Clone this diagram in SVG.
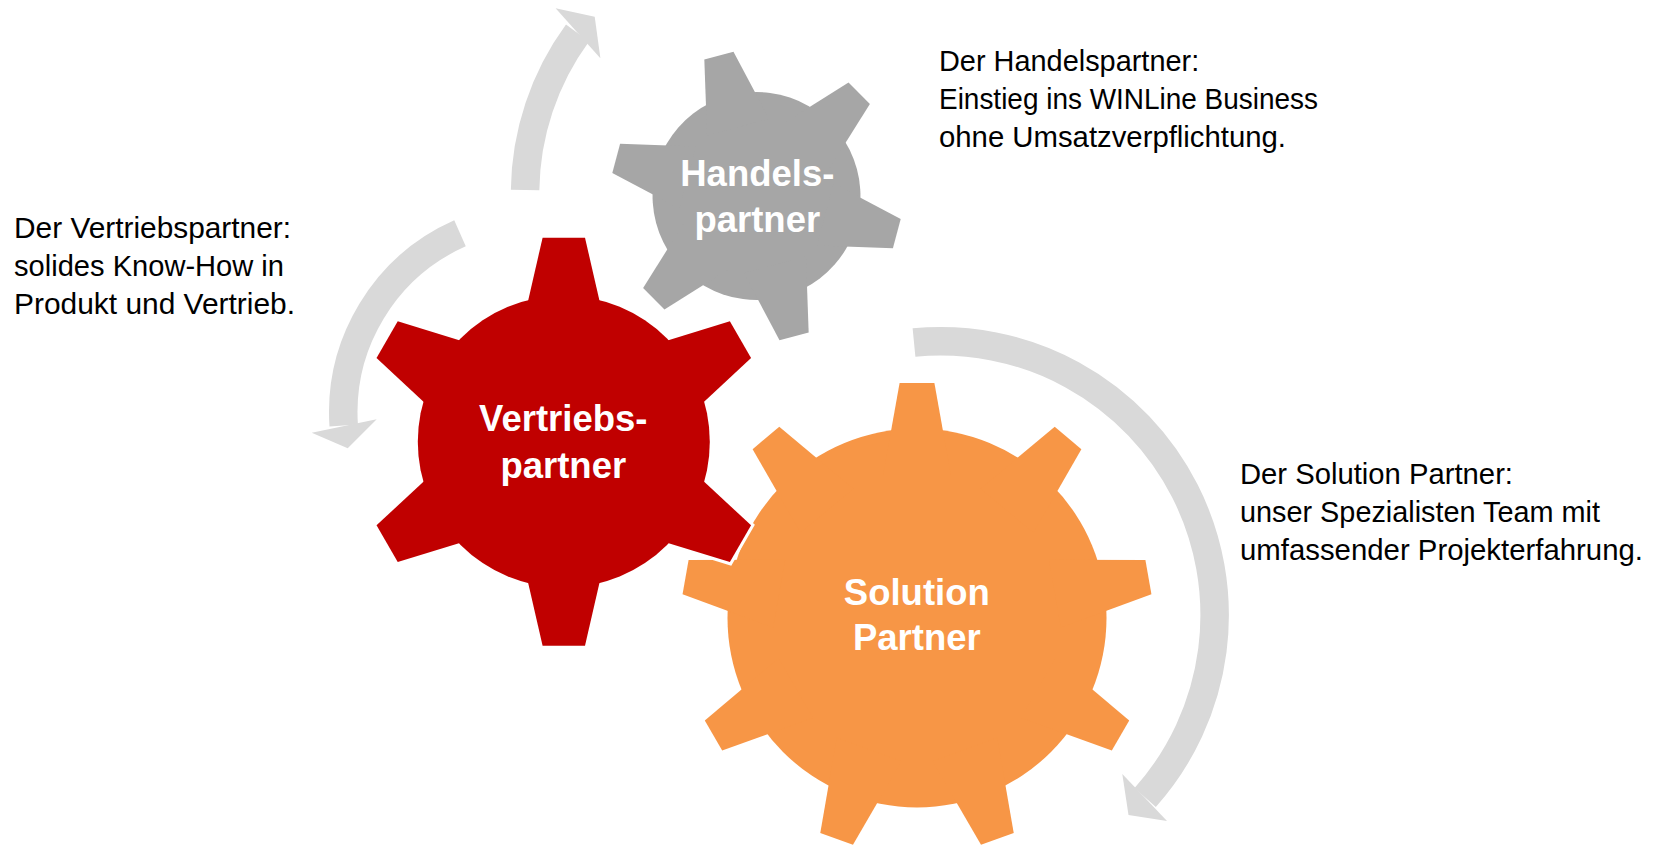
<svg xmlns="http://www.w3.org/2000/svg" xmlns:xlink="http://www.w3.org/1999/xlink" width="1660" height="847" viewBox="0 0 1660 847">
  <style>
    .arc { fill: none; stroke: #D9D9D9; stroke-width: 28.5; stroke-linecap: butt; }
    .head { fill: #D9D9D9; }
    .lbl { font-family: "Liberation Sans", Arial, sans-serif; font-weight: bold; font-size: 36.5px; fill: #FFFFFF; text-anchor: middle; }
    .desc { font-family: "Liberation Sans", Arial, sans-serif; font-size: 29px; fill: #000000; }
  </style>
  <defs>
    <g id="gear6">
      <circle cx="0" cy="0" r="146"/>
      <polygon id="t6" points="-45.1,-100 -21.2,-204 21.2,-204 45.1,-100"/>
      <use xlink:href="#t6" href="#t6" transform="rotate(60)"/>
      <use xlink:href="#t6" href="#t6" transform="rotate(120)"/>
      <use xlink:href="#t6" href="#t6" transform="rotate(180)"/>
      <use xlink:href="#t6" href="#t6" transform="rotate(240)"/>
      <use xlink:href="#t6" href="#t6" transform="rotate(300)"/>
    </g>
    <g id="gear9">
      <circle cx="0" cy="0" r="189.5"/>
      <polygon id="t9" points="-34.4,-140 -17.4,-235 17.4,-235 34.4,-140"/>
      <use xlink:href="#t9" href="#t9" transform="rotate(40)"/>
      <use xlink:href="#t9" href="#t9" transform="rotate(80)"/>
      <use xlink:href="#t9" href="#t9" transform="rotate(120)"/>
      <use xlink:href="#t9" href="#t9" transform="rotate(160)"/>
      <use xlink:href="#t9" href="#t9" transform="rotate(200)"/>
      <use xlink:href="#t9" href="#t9" transform="rotate(240)"/>
      <use xlink:href="#t9" href="#t9" transform="rotate(280)"/>
      <use xlink:href="#t9" href="#t9" transform="rotate(320)"/>
    </g>
  </defs>

  <rect x="0" y="0" width="1660" height="847" fill="#FFFFFF"/>

  <g id="connectors">
    <path class="arc" d="M525.1,190 A271,271 0 0 1 577.5,33"/>
    <polygon class="head" points="555.6,8.3 594.7,16.7 600.4,58.3"/>
    <path class="arc" d="M460,233.3 A196,196 0 0 0 343.7,425.5"/>
    <polygon class="head" points="311.7,432.7 347.7,448.3 376.7,419.3"/>
    <path class="arc" d="M914,342.5 A274,274 0 0 1 1145.2,797.5"/>
    <polygon class="head" points="1122.3,774 1128.5,815 1167,821"/>
  </g>

  <g id="node-solution">
    <g transform="translate(917,618)">
      <use xlink:href="#gear9" href="#gear9" fill="#FFFFFF" stroke="#FFFFFF" stroke-width="6"/>
      <use xlink:href="#gear9" href="#gear9" fill="#F79646"/>
    </g>
    <text class="lbl" x="916.8" y="604.5">Solution</text>
    <text class="lbl" x="916.8" y="650">Partner</text>
  </g>

  <g id="node-handelspartner">
    <g transform="translate(756.5,196) rotate(-15) scale(0.712)">
      <use xlink:href="#gear6" href="#gear6" fill="#FFFFFF" stroke="#FFFFFF" stroke-width="8.4"/>
      <use xlink:href="#gear6" href="#gear6" fill="#A6A6A6"/>
    </g>
    <text class="lbl" x="757.3" y="185.5">Handels-</text>
    <text class="lbl" x="757.3" y="232">partner</text>
  </g>

  <g id="node-vertriebspartner">
    <g transform="translate(563.8,441.7)">
      <use xlink:href="#gear6" href="#gear6" fill="#FFFFFF" stroke="#FFFFFF" stroke-width="6"/>
      <use xlink:href="#gear6" href="#gear6" fill="#C00000"/>
    </g>
    <text class="lbl" x="563.3" y="431">Vertriebs-</text>
    <text class="lbl" x="563.3" y="478">partner</text>
  </g>

  <g id="desc-vertriebspartner">
    <text class="desc" x="14" y="238" textLength="277" lengthAdjust="spacingAndGlyphs">Der Vertriebspartner:</text>
    <text class="desc" x="14" y="276" textLength="270" lengthAdjust="spacingAndGlyphs">solides Know-How in</text>
    <text class="desc" x="14" y="314" textLength="281" lengthAdjust="spacingAndGlyphs">Produkt und Vertrieb.</text>
  </g>

  <g id="desc-handelspartner">
    <text class="desc" x="939" y="71" textLength="260.2" lengthAdjust="spacingAndGlyphs">Der Handelspartner:</text>
    <text class="desc" x="939" y="109" textLength="379" lengthAdjust="spacingAndGlyphs">Einstieg ins WINLine Business</text>
    <text class="desc" x="939" y="147" textLength="347" lengthAdjust="spacingAndGlyphs">ohne Umsatzverpflichtung.</text>
  </g>

  <g id="desc-solution">
    <text class="desc" x="1240" y="484" textLength="273" lengthAdjust="spacingAndGlyphs">Der Solution Partner:</text>
    <text class="desc" x="1240" y="522" textLength="360" lengthAdjust="spacingAndGlyphs">unser Spezialisten Team mit</text>
    <text class="desc" x="1240" y="560" textLength="403" lengthAdjust="spacingAndGlyphs">umfassender Projekterfahrung.</text>
  </g>
</svg>
